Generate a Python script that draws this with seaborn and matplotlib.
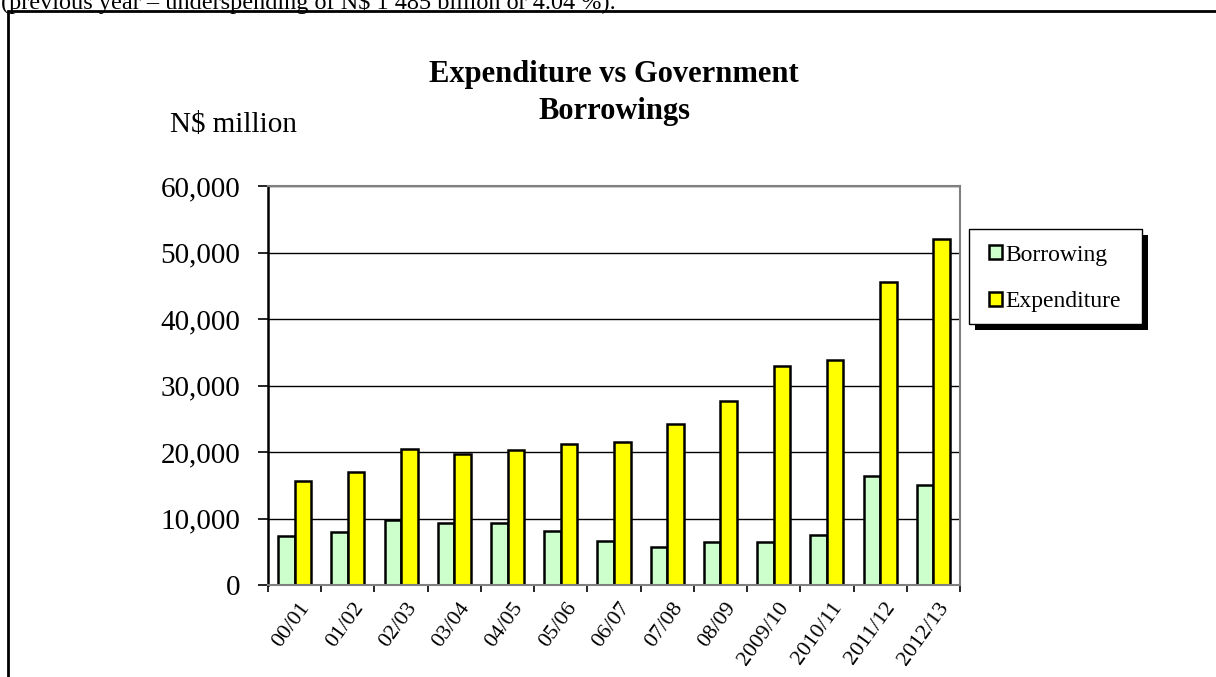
import pandas as pd
import matplotlib.pyplot as plt
import matplotlib.patheffects as pe
from matplotlib.patches import Rectangle, Patch
from matplotlib.ticker import FuncFormatter, FixedLocator
from matplotlib.transforms import ScaledTranslation
import seaborn as sns

OUTPUT_IMG = "out.png"

# --- Data (N$ million) ---
years = ["00/01", "01/02", "02/03", "03/04", "04/05", "05/06", "06/07",
         "07/08", "08/09", "2009/10", "2010/11", "2011/12", "2012/13"]
borrowing = [7400, 7900, 9800, 9300, 9300, 8100, 6600,
             5700, 6450, 6450, 7500, 16400, 15100]
expenditure = [15600, 17000, 20450, 19700, 20250, 21200, 21500,
               24200, 27600, 32900, 33800, 45600, 52000]
series_names = ["Borrowing", "Expenditure"]
series_colors = ["#CCFFCC", "#FFFF00"]

df = pd.DataFrame({
    "Year": years * 2,
    "Value": borrowing + expenditure,
    "Series": [series_names[0]] * len(years) + [series_names[1]] * len(years),
})

sns.set_style("white")
plt.rcParams["font.family"] = ["Liberation Serif", "DejaVu Serif"]
plt.rcParams["text.color"] = "black"
plt.rcParams["xtick.color"] = "black"
plt.rcParams["ytick.color"] = "black"
plt.rcParams["xtick.labelcolor"] = "black"
plt.rcParams["ytick.labelcolor"] = "black"

W, H = 1216, 677
fig = plt.figure(figsize=(W / 100, H / 100), dpi=100)
ax = fig.add_axes([268 / W, 1 - 585 / H, (960 - 268) / W, (585 - 186) / H])

sns.barplot(data=df, x="Year", y="Value", hue="Series", order=years,
            hue_order=series_names, palette=series_colors, saturation=1,
            width=0.62, edgecolor="black", linewidth=1.8, ax=ax, legend=False)

# --- Axes styling ---
ax.set_xlim(-0.5, len(years) - 0.5)
ax.set_ylim(0, 60000)
ax.set_yticks(range(0, 60001, 10000))
ax.yaxis.set_major_formatter(FuncFormatter(lambda v, p: f"{int(v):,}"))
ax.yaxis.grid(True, color="black", linewidth=1.0)
ax.set_axisbelow(True)
ax.set_xlabel("")
ax.set_ylabel("")

for side in ["top", "right", "bottom"]:
    ax.spines[side].set_color("#808080")
    ax.spines[side].set_linewidth(1.5)
ax.spines["left"].set_color("black")
ax.spines["left"].set_linewidth(1.8)

ax.tick_params(axis="y", which="major", direction="out", length=7, width=1.2,
               color="black", pad=13, labelsize=21, left=True)
ax.tick_params(axis="x", which="major", length=0, pad=4, labelsize=16)
ax.xaxis.set_minor_locator(FixedLocator([i - 0.5 for i in range(len(years) + 1)]))
ax.tick_params(axis="x", which="minor", direction="out", length=5, width=1.2,
               color="black", bottom=True)

offset = ScaledTranslation(12 / 100, -14 / 100, fig.dpi_scale_trans)
for lbl in ax.get_xticklabels():
    lbl.set_rotation(54)
    lbl.set_ha("right")
    lbl.set_va("center")
    lbl.set_rotation_mode("anchor")
    lbl.set_transform(lbl.get_transform() + offset)

# --- Titles and texts ---
fig.text(614 / W, 1 - 93 / H, "Expenditure vs Government\nBorrowings", ha="center",
         va="center", fontsize=22, fontweight="bold", linespacing=1.4)
fig.text(170 / W, 1 - 125 / H, "N$ million", ha="left", va="center", fontsize=21)
fig.text(0.001, 1 - 9 / H,
         "(previous year \u2013 underspending of N$ 1 485 billion or 4.04 %).",
         ha="left", va="baseline", fontsize=17.5)

# --- Legend box with drop shadow ---
box = Rectangle((969 / W, 1 - 324 / H), (1142 - 969) / W, (324 - 229) / H,
                transform=fig.transFigure, facecolor="white", edgecolor="black",
                linewidth=1.0, zorder=2)
box.set_path_effects([pe.SimplePatchShadow(offset=(4.5, -4.5), shadow_rgbFace="black", alpha=1),
                      pe.Normal()])
fig.patches.append(box)

handles = [Patch(facecolor=c, edgecolor="black", linewidth=1.8) for c in series_colors]
leg = fig.legend(handles, series_names, loc="center",
                 bbox_to_anchor=(1055 / W, 1 - 278.5 / H), borderaxespad=0,
                 fontsize=17, frameon=False, handlelength=0.55,
                 handleheight=0.55, handletextpad=0.15, labelspacing=1.1,
                 borderpad=0)
leg.set_zorder(3)

# --- Outer page frame ---
fig.patches.append(Rectangle((8 / W, -0.2), 2.0, 0.2 + 1 - 11 / H,
                             transform=fig.transFigure, fill=False,
                             edgecolor="black", linewidth=2.0, zorder=5))

fig.savefig(OUTPUT_IMG, dpi=100)
